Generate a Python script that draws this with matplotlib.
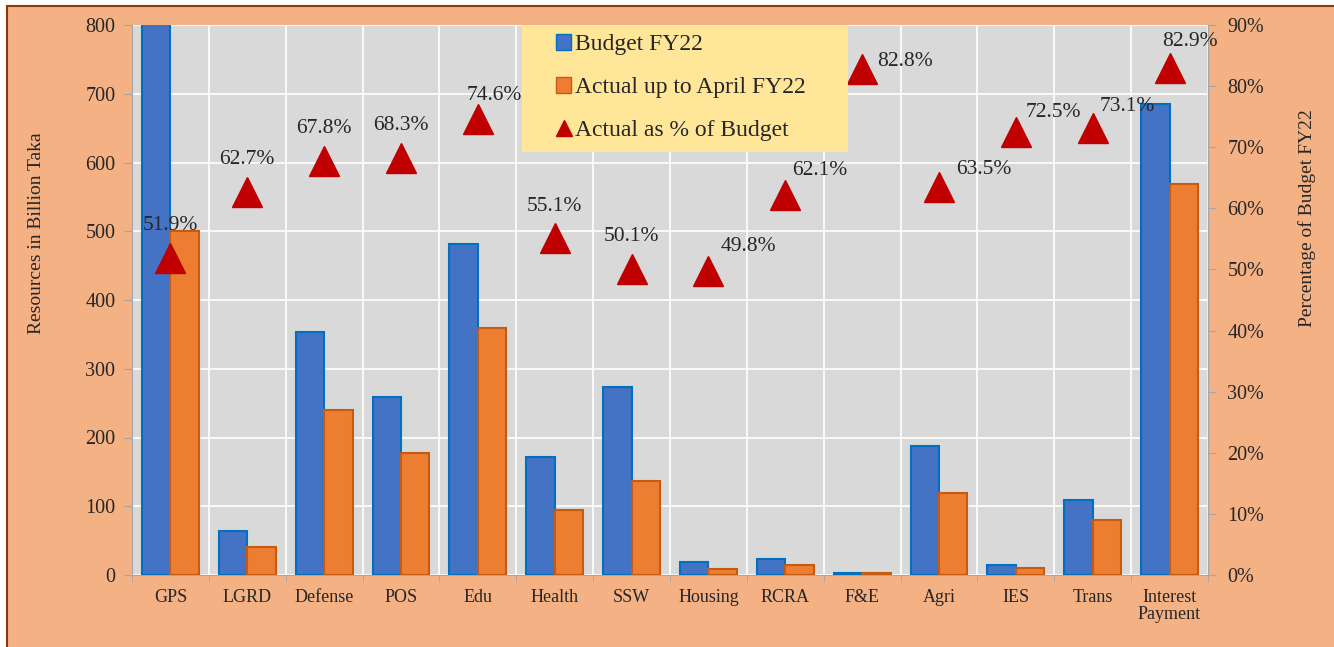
import numpy as np
import matplotlib.pyplot as plt
from matplotlib.patches import Rectangle
from matplotlib.lines import Line2D

# data
categories = ['GPS', 'LGRD', 'Defense', 'POS', 'Edu', 'Health', 'SSW', 'Housing',
              'RCRA', 'F&E', 'Agri', 'IES', 'Trans', 'Interest\nPayment']
budget = [963, 64, 354, 259, 482, 172, 273, 19, 24, 3, 187, 14, 109, 685]
actual = [500, 41, 240, 177, 359, 95, 137, 9, 14, 2.5, 119, 10, 80, 569]
pct = [51.9, 62.7, 67.8, 68.3, 74.6, 55.1, 50.1, 49.8, 62.1, 82.8, 63.5, 72.5, 73.1, 82.9]
# label offsets in pixels (dx, dy) relative to the triangle
label_off = [(0, 32), (0, 32), (0, 32), (0, 32), (16, 24), (0, 32), (0, 32),
             (40, 24), (34, 25), (43, 8), (45, 17), (38, 19), (35, 22), (20, 27)]

W, H = 1334, 647
plt.rcParams['font.family'] = ['Liberation Serif', 'DejaVu Serif']
txt_col = '#262626'

fig = plt.figure(figsize=(W / 100, H / 100), dpi=100, facecolor='white')
# peach frame with brown edge
fig.patches.append(Rectangle((7 / W, -0.05), 1.1, 1 - 6 / H + 0.05, transform=fig.transFigure,
                             facecolor='#F4B183', edgecolor='#843C0C', linewidth=1.5, zorder=-10))

ax = fig.add_axes([132 / W, 1 - 575 / H, 1076 / W, 550 / H])
ax.set_facecolor('#D9D9D9')
x = np.arange(len(categories))
w = 0.37
ax.bar(x - w / 2, budget, w, color='#4472C4', edgecolor='#0070C0', linewidth=1.5, zorder=3)
ax.bar(x + w / 2, actual, w, color='#ED7D31', edgecolor='#C55A11', linewidth=1.5, zorder=3)
ax.set_xlim(-0.5, len(categories) - 0.5)
ax.set_ylim(0, 800)
ax.set_yticks(range(0, 801, 100))
ax.set_xticks(x)
ax.set_xticklabels(categories, fontsize=13, linespacing=1.0, color=txt_col)
ax.set_xticks(np.arange(-0.5, len(categories), 1), minor=True)
ax.tick_params(axis='x', which='major', length=0, pad=10)
ax.tick_params(axis='x', which='minor', length=5, color='#A6A6A6')
ax.tick_params(axis='y', labelsize=14.5, length=6, color='#A6A6A6', pad=6, labelcolor=txt_col)
ax.grid(axis='y', color='white', linewidth=1.2, zorder=0)
ax.grid(axis='x', which='minor', color='white', linewidth=1.2, zorder=0)
ax.set_axisbelow(True)
ax.spines['top'].set_visible(False)
for s in ['left', 'bottom', 'right']:
    ax.spines[s].set_color('#A6A6A6')

ax2 = ax.twinx()
ax2.set_ylim(0, 90)
ax2.set_yticks(range(0, 91, 10))
ax2.set_yticklabels([f'{v}%' for v in range(0, 91, 10)])
ax2.tick_params(axis='y', labelsize=14.5, length=6, color='#A6A6A6', pad=8, labelcolor=txt_col)
for s in ['top', 'left', 'bottom']:
    ax2.spines[s].set_visible(False)
ax2.spines['right'].set_color('#A6A6A6')
ax2.plot(x, pct, linestyle='none', marker='^', markersize=21, color='#C00000', zorder=5)
for i, p in enumerate(pct):
    dx, dy = label_off[i]
    ax2.annotate(f'{p}%', (x[i], p), xytext=(dx * 0.72, dy * 0.72), textcoords='offset points',
                 ha='center', va='center', fontsize=15.5, color=txt_col, zorder=6)

# axis titles
fig.text(37 / W, 1 - 233 / H, 'Resources in Billion Taka', rotation=90, ha='center', va='center',
         fontsize=14, color=txt_col)
fig.text(1307 / W, 1 - 218 / H, 'Percentage of Budget FY22', rotation=90, ha='center', va='center',
         fontsize=14, color=txt_col)

# legend: yellow box behind a frameless legend
lx0, lx1, ly0, ly1 = 522, 848, 23, 152
ax2.add_patch(Rectangle((lx0 / W, 1 - ly1 / H), (lx1 - lx0) / W, (ly1 - ly0) / H,
                        transform=fig.transFigure, facecolor='#FFE699', edgecolor='none', zorder=8))
handles = [Rectangle((0, 0), 1, 1, facecolor='#4472C4', edgecolor='#0070C0'),
           Rectangle((0, 0), 1, 1, facecolor='#ED7D31', edgecolor='#C55A11'),
           Line2D([], [], linestyle='none', marker='^', markersize=11, color='#C00000')]
leg = ax2.legend(handles, ['Budget FY22', 'Actual up to April FY22', 'Actual as % of Budget'],
                 loc='upper left', bbox_to_anchor=((556 - 132) / 1076, (575 - 34) / 550), fontsize=17,
                 frameon=False, handlelength=0.65, handleheight=0.65, handletextpad=0.15,
                 labelspacing=0.92, borderpad=0, borderaxespad=0)
leg.set_zorder(10)
for t in leg.get_texts():
    t.set_color(txt_col)

fig.savefig('out.png', dpi=100, facecolor=fig.get_facecolor())
